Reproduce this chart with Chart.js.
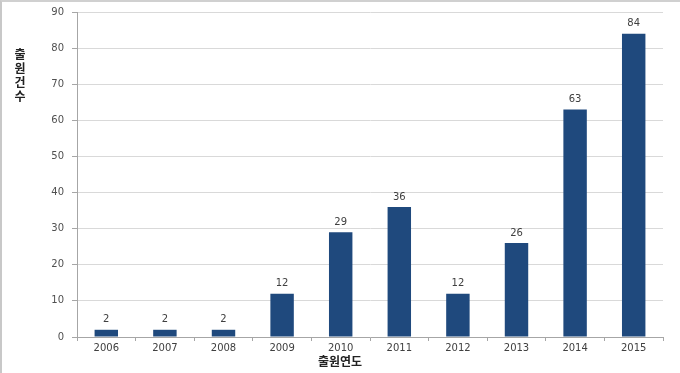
<!DOCTYPE html>
<html>
<head>
<meta charset="utf-8">
<script src="https://cdn.jsdelivr.net/npm/chart.js@4"></script>
<style>
  html, body { margin: 0; padding: 0; background: #ffffff; }
  #wrap { position: relative; width: 680px; height: 373px; box-sizing: border-box;
          border-left: 2px solid #c8c8c8; border-top: 2px solid #d0d0d0; }
  canvas { display: block; }
</style>
</head>
<body>
<div id="wrap"><canvas id="c" width="678" height="371"></canvas></div>
<script>
const categories = ['2006','2007','2008','2009','2010','2011','2012','2013','2014','2015'];
const counts = [2, 2, 2, 12, 29, 36, 12, 26, 63, 84];
const yTicks = [0, 10, 20, 30, 40, 50, 60, 70, 80, 90];
const yTitle = '출원건수';
const xTitle = '출원연도';

const labelPlugin = {
  id: 'valueLabels',
  afterDatasetsDraw(chart) {
    const ctx = chart.ctx;
    const meta = chart.getDatasetMeta(0);
    ctx.save();
    ctx.font = '10px "DejaVu Sans", sans-serif';
    ctx.fillStyle = '#404040';
    ctx.textAlign = 'center';
    ctx.textBaseline = 'bottom';
    meta.data.forEach((bar, i) => {
      ctx.fillText(String(counts[i]), bar.x, bar.y - 5);
    });
    // stacked vertical y title
    ctx.font = 'bold 12px "Noto Sans CJK KR", sans-serif';
    ctx.fillStyle = '#222222';
    ctx.textBaseline = 'middle';
    const chars = Array.from(yTitle);
    chars.forEach((ch, i) => ctx.fillText(ch, 18, 52 + i * 14));
    // x title
    ctx.font = 'bold 12px "Noto Sans CJK KR", sans-serif';
    ctx.fillText(xTitle, 338, 359);
    ctx.restore();
  }
};

new Chart(document.getElementById('c'), {
  type: 'bar',
  data: {
    labels: categories,
    datasets: [{
      data: counts,
      backgroundColor: '#1F497D',
      borderWidth: 0,
      barPercentage: 0.4,
      categoryPercentage: 1.0
    }]
  },
  options: {
    responsive: false,
    animation: false,
    events: [],
    layout: { padding: { top: 10, right: 17, left: 0, bottom: 0 } },
    plugins: { legend: { display: false }, tooltip: { enabled: false } },
    scales: {
      x: {
        afterFit(s) { s.height = 36; s.paddingLeft = 0; s.paddingRight = 0; },
        grid: { drawOnChartArea: false, drawTicks: true, tickLength: 4, color: '#a6a6a6', offset: true },
        border: { color: '#a6a6a6' },
        ticks: { color: '#404040', font: { size: 10, family: '"DejaVu Sans", sans-serif' }, padding: 1 }
      },
      y: {
        min: 0, max: 90,
        afterFit(s) { s.width = 75; s.paddingTop = 0; s.paddingBottom = 0; },
        afterBuildTicks(s) { s.ticks = yTicks.map(v => ({ value: v })); },
        grid: { color: '#d9d9d9', tickLength: 5, tickColor: '#a6a6a6' },
        border: { color: '#a6a6a6' },
        ticks: { color: '#505050', font: { size: 10, family: '"DejaVu Sans", sans-serif' }, padding: 8 }
      }
    }
  },
  plugins: [labelPlugin]
});
</script>
</body>
</html>
